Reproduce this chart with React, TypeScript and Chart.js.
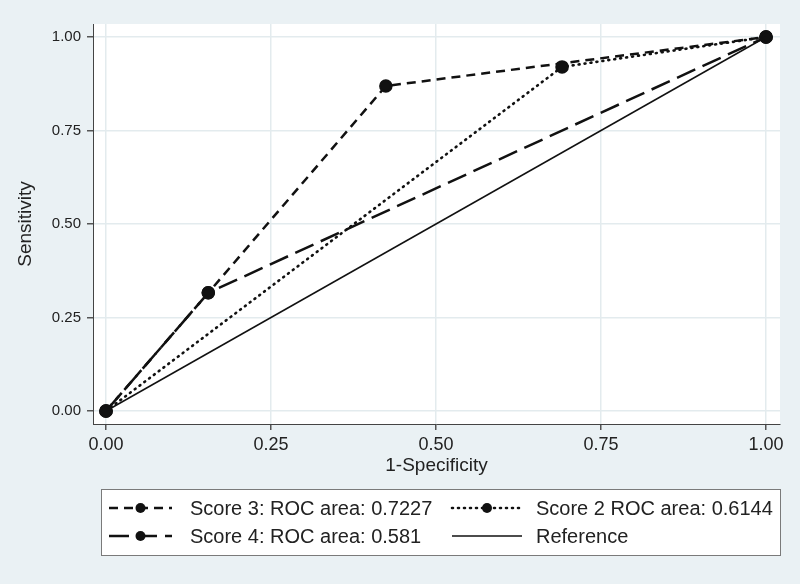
import React, { useEffect, useRef } from "react";
import { Chart, registerables } from "chart.js";

Chart.register(...registerables);

// ---- data ----
const score3X = [0, 0.155, 0.424, 1];
const score3Y = [0, 0.316, 0.869, 1];
const score2X = [0, 0.691, 1];
const score2Y = [0, 0.92, 1];
const score4X = [0, 0.155, 1];
const score4Y = [0, 0.316, 1];
const refX = [0, 1];
const refY = [0, 1];
const tickValues = [0, 0.25, 0.5, 0.75, 1];
const legendLabels = [
  "Score 3: ROC area: 0.7227",
  "Score 2 ROC area: 0.6144",
  "Score 4: ROC area: 0.581",
  "Reference",
];
const xTitle = "1-Specificity";
const yTitle = "Sensitivity";

const pts = (xs: number[], ys: number[]) => xs.map((x, i) => ({ x, y: ys[i] }));

const BG = "#eaf1f4";
const GRID = "#e3ebee";
const FONT = "'Liberation Sans', Arial, sans-serif";

const DASH3 = [9, 6];
const DASH2 = [1, 5];
const DASH4 = [20, 8];

export default function App() {
  const ref = useRef<HTMLCanvasElement>(null);
  useEffect(() => {
    if (!ref.current) return;
    const bgPlugin = {
      id: "bgPlugin",
      beforeDraw(chart: any) {
        const { ctx, chartArea } = chart;
        ctx.save();
        ctx.fillStyle = BG;
        ctx.fillRect(0, 0, chart.width, chart.height);
        ctx.fillStyle = "#ffffff";
        ctx.fillRect(chartArea.left, chartArea.top, chartArea.right - chartArea.left, chartArea.bottom - chartArea.top);
        ctx.restore();
      },
      afterDraw(chart: any) {
        const { ctx, chartArea } = chart;
        ctx.save();
        // axis titles
        ctx.fillStyle = "#222";
        ctx.font = `19px ${FONT}`;
        ctx.textAlign = "center";
        ctx.textBaseline = "middle";
        ctx.fillText(xTitle, (chartArea.left + chartArea.right) / 2, 466);
        ctx.save();
        ctx.translate(26, (chartArea.top + chartArea.bottom) / 2);
        ctx.rotate(-Math.PI / 2);
        ctx.fillText(yTitle, 0, 0);
        ctx.restore();
        // legend box
        const bx = 101, by = 489, bw = 679, bh = 66;
        ctx.fillStyle = "#ffffff";
        ctx.fillRect(bx, by, bw, bh);
        ctx.strokeStyle = "#7a7a7a";
        ctx.lineWidth = 1;
        ctx.strokeRect(bx + 0.5, by + 0.5, bw, bh);
        const items = [
          { label: legendLabels[0], dash: DASH3, x0: 109, x1: 172, tx: 190, y: 508, w: 2.6, marker: true, cap: "butt" },
          { label: legendLabels[1], dash: DASH2, x0: 452, x1: 522, tx: 536, y: 508, w: 2.6, marker: true, cap: "round" },
          { label: legendLabels[2], dash: DASH4, x0: 109, x1: 172, tx: 190, y: 536, w: 2.6, marker: true, cap: "butt" },
          { label: legendLabels[3], dash: [], x0: 452, x1: 522, tx: 536, y: 536, w: 1.6, marker: false, cap: "butt" },
        ];
        for (const it of items) {
          ctx.strokeStyle = "#111";
          ctx.lineWidth = it.w;
          ctx.lineCap = it.cap as CanvasLineCap;
          ctx.setLineDash(it.dash);
          ctx.beginPath();
          ctx.moveTo(it.x0, it.y);
          ctx.lineTo(it.x1, it.y);
          ctx.stroke();
          ctx.setLineDash([]);
          if (it.marker) {
            ctx.fillStyle = "#111";
            ctx.beginPath();
            ctx.arc((it.x0 + it.x1) / 2, it.y, 5, 0, Math.PI * 2);
            ctx.fill();
          }
          ctx.fillStyle = "#222";
          ctx.font = `20px ${FONT}`;
          ctx.textAlign = "left";
          ctx.textBaseline = "middle";
          ctx.fillText(it.label, it.tx, it.y + 1);
        }
        ctx.restore();
      },
    };

    const common = {
      borderColor: "#111",
      backgroundColor: "#111",
      pointBackgroundColor: "#111",
      pointBorderColor: "#111",
      fill: false,
      tension: 0,
    };

    const chart = new Chart(ref.current, {
      type: "line",
      data: {
        datasets: [
          { ...common, label: legendLabels[3], data: pts(refX, refY), borderWidth: 1.5, pointRadius: 0 },
          { ...common, label: legendLabels[1], data: pts(score2X, score2Y), borderWidth: 2.6, borderDash: DASH2, borderCapStyle: "round", pointRadius: 5.5 },
          { ...common, label: legendLabels[2], data: pts(score4X, score4Y), borderWidth: 2.5, borderDash: DASH4, pointRadius: 5.5 },
          { ...common, label: legendLabels[0], data: pts(score3X, score3Y), borderWidth: 2.5, borderDash: DASH3, pointRadius: 5.5 },
        ],
      },
      options: {
        animation: false,
        responsive: false,
        devicePixelRatio: 1,
        layout: { padding: { left: 0, right: 20, top: 24, bottom: 100 } },
        plugins: { legend: { display: false }, tooltip: { enabled: false } },
        scales: {
          x: {
            type: "linear",
            min: -0.0197,
            max: 1.0212,
            afterBuildTicks: (s: any) => { s.ticks = tickValues.map((v) => ({ value: v })); },
            afterFit: (s: any) => { s.height = 60; },
            ticks: {
              callback: (v: any) => Number(v).toFixed(2),
              color: "#222",
              font: { family: FONT, size: 18 },
              padding: 4,
              maxRotation: 0,
            },
            grid: { color: GRID, lineWidth: 1.5, tickColor: "#555", tickLength: 6, drawTicks: true },
            border: { display: true, color: "#444", width: 1 },
          },
          y: {
            type: "linear",
            min: -0.0348,
            max: 1.0348,
            afterBuildTicks: (s: any) => { s.ticks = tickValues.map((v) => ({ value: v })); },
            afterFit: (s: any) => { s.width = 93; },
            ticks: {
              callback: (v: any) => Number(v).toFixed(2),
              color: "#222",
              font: { family: FONT, size: 15 },
              padding: 6,
            },
            grid: { color: GRID, lineWidth: 1.5, tickColor: "#555", tickLength: 6, drawTicks: true },
            border: { display: true, color: "#444", width: 1 },
          },
        },
      },
      plugins: [bgPlugin],
    } as any);
    return () => chart.destroy();
  }, []);

  return (
    <div style={{ position: "fixed", left: 0, top: 0, width: 800, height: 584, background: BG }}>
      <canvas ref={ref} width={800} height={584} style={{ display: "block", width: 800, height: 584 }} />
    </div>
  );
}
